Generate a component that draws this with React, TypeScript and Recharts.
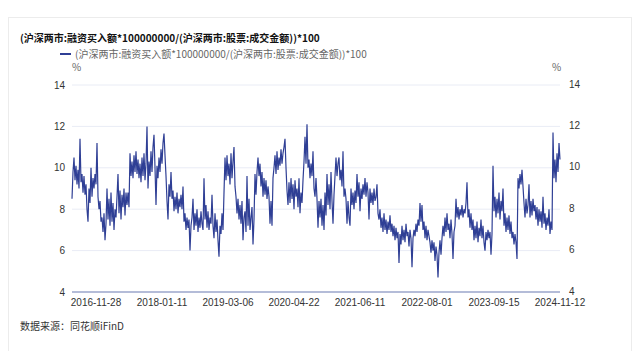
import React from "react";
import {
  CartesianGrid,
  Line,
  LineChart,
  XAxis,
  YAxis,
} from "recharts";

// one sample per screen column
const ratioValues: number[] = [
  8.5, 9.8, 10.5, 9.4, 10.1, 9.2, 9.9, 9.0, 11.4, 9.3,
  9.7, 8.8, 9.6, 8.7, 9.2, 8.0, 7.4, 9.0, 8.3, 10.0,
  8.6, 9.5, 9.0, 9.7, 9.2, 11.2, 8.6, 8.0, 8.4, 7.4,
  7.6, 6.9, 7.8, 6.5, 7.3, 9.0, 7.5, 8.5, 7.2, 8.8,
  7.4, 8.3, 7.0, 8.0, 7.6, 8.6, 9.7, 7.8, 8.9, 7.5,
  8.7, 8.1, 9.0, 7.7, 8.8, 8.2, 8.8, 8.1, 10.7, 9.6,
  10.3, 9.5, 10.6, 9.8, 10.8, 9.7, 10.4, 9.5, 10.2, 9.3,
  10.5, 9.6, 10.7, 9.4, 10.2, 12.0, 9.0, 10.3, 9.6, 10.8,
  9.8, 11.0, 11.6, 10.0, 8.2, 10.1, 9.5, 10.5, 9.8, 10.9,
  10.2, 11.2, 11.65, 10.6, 9.6, 8.4, 7.5, 9.2, 8.6, 9.8,
  8.5, 8.9, 7.9, 8.6, 8.0, 8.8, 7.8, 8.5, 8.1, 8.7,
  8.0, 9.1, 7.4, 7.8, 7.0, 7.6, 7.1, 7.5, 6.0, 7.2,
  7.6, 8.5, 7.0, 7.8, 7.2, 8.0, 6.9, 7.6, 7.1, 7.9,
  7.3, 7.0, 9.5, 7.5, 8.2, 7.1, 7.9, 7.0, 7.6, 7.3,
  8.7, 7.2, 6.6, 7.8, 6.9, 7.5, 6.5, 5.7, 7.2, 6.8,
  7.8, 7.0, 8.8, 10.5, 9.4, 10.6, 9.6, 10.2, 9.2, 10.7,
  9.5, 10.3, 11.0, 9.1, 8.6, 7.8, 8.5, 7.5, 8.2, 7.3,
  8.4, 6.5, 7.6, 7.9, 6.9, 9.6, 7.2, 8.5, 7.0, 7.6,
  8.1, 6.3, 7.5, 9.7, 8.7, 9.8, 10.5, 9.6, 10.2, 9.1,
  9.8, 8.6, 9.5, 8.7, 9.4, 8.5, 9.1, 8.6, 7.3, 8.4,
  7.2, 9.5, 10.0, 10.6, 9.7, 10.8, 9.9, 10.5, 10.1, 10.9,
  10.2, 10.7, 11.0, 11.4, 10.0, 8.9, 8.2, 9.3, 8.3, 9.5,
  8.5, 9.2, 8.0, 9.4, 8.6, 9.0, 8.1, 9.5, 7.8, 8.8,
  8.3, 9.4, 10.3, 11.5, 10.2, 12.1, 10.0, 10.4, 9.5, 10.2,
  9.6, 10.8, 9.0, 8.6, 9.5, 8.5, 7.1, 8.4, 7.6, 8.5,
  7.2, 8.2, 7.0, 8.8, 7.7, 9.7, 8.2, 9.2, 8.0, 9.8,
  8.4, 7.3, 8.7, 9.6, 10.5, 9.6, 10.2, 10.5, 9.4, 9.9,
  9.1, 10.8, 8.6, 9.0, 8.5, 7.3, 8.4, 7.6, 7.2, 9.0,
  8.2, 8.8, 8.0, 8.9, 8.3, 9.7, 8.6, 9.3, 7.9, 9.0,
  8.5, 9.2, 8.7, 9.5, 8.6, 9.3, 8.8, 7.5, 9.0, 8.3,
  8.8, 8.2, 9.0, 8.4, 8.6, 9.2, 7.8, 7.5, 8.0, 7.1,
  7.6, 6.9, 7.8, 7.0, 7.5, 6.8, 7.4, 7.0, 7.7, 6.9,
  7.3, 6.7, 7.2, 6.5, 7.1, 6.6, 6.9, 5.4, 6.8, 6.3,
  7.2, 6.5, 7.0, 6.4, 7.3, 6.7, 6.9, 6.2, 7.0, 6.6,
  5.2, 6.6, 7.0, 6.7, 7.3, 6.9, 7.5, 7.2, 8.3, 7.4,
  8.2, 7.0, 7.4, 6.6, 7.2, 6.5, 7.0, 6.7, 6.4, 5.9,
  6.5, 6.0, 6.4, 5.5, 6.2, 5.8, 4.7, 5.9, 6.5, 5.8,
  6.6, 7.2, 6.7, 7.6, 6.9, 7.8, 7.0, 7.3, 6.6, 7.5,
  6.8, 5.6, 6.9, 7.2, 8.5, 7.6, 8.1, 7.5, 8.0, 7.7,
  8.2, 7.6, 8.0, 7.8, 8.3, 9.3, 7.6, 8.0, 7.1, 7.8,
  7.0, 7.5, 6.5, 7.2, 6.6, 7.4, 6.4, 7.1, 6.7, 7.5,
  6.6, 7.2, 6.4, 6.0, 6.9, 6.5, 7.0, 6.6, 6.9, 5.8,
  6.8, 10.1, 7.9, 8.6, 7.6, 8.5, 7.8, 8.8, 7.5, 8.4,
  7.9, 9.0, 7.2, 7.8, 6.9, 7.6, 7.0, 7.7, 6.8, 7.4,
  6.6, 6.9, 6.3, 6.8, 6.4, 5.6, 9.5, 9.0, 9.7, 9.2,
  9.9, 9.1, 8.3, 7.6, 8.5, 7.8, 8.2, 9.2, 7.6, 8.4,
  7.7, 8.5, 7.9, 8.2, 7.5, 8.1, 7.2, 8.0, 7.4, 7.9,
  7.1, 8.6, 7.3, 7.8, 7.0, 7.6, 7.2, 8.0, 6.8, 7.4,
  7.0, 11.7, 9.5, 10.4, 9.3, 10.7, 9.8, 11.2, 10.4,
];

const tickDates: string[] = [
  "2016-11-28",
  "2018-01-11",
  "2019-03-06",
  "2020-04-22",
  "2021-06-11",
  "2022-08-01",
  "2023-09-15",
  "2024-11-12",
];
// sample index where each date label sits
const tickIndexes: number[] = [24, 90, 156, 222, 288, 355, 422, 488];

const yTicks: number[] = [4, 6, 8, 10, 12, 14];

const seriesName = "(沪深两市:融资买入额*100000000/(沪深两市:股票:成交金额))*100";

const data = ratioValues.map((v, i) => ({ i, v }));

const FONT = '"Noto Sans CJK SC", "Noto Sans", sans-serif';
const NUM_FONT = '"Liberation Sans", Arial, sans-serif';
const LINE_COLOR = "#2f3f95";
const tickStyle = { fill: "#333", fontSize: 10, fontFamily: NUM_FONT };

export default function App() {
  return (
    <div style={{ position: "relative", width: 624, height: 343, fontFamily: FONT, background: "#fff" }}>
      <div
        style={{
          position: "absolute",
          left: 0,
          top: 9,
          width: 622,
          height: 333,
          border: "1px solid #ececec",
        }}
      />
      <div style={{ position: "absolute", left: 12, top: 22, fontSize: 10, fontWeight: "bold", color: "#111", whiteSpace: "nowrap" }}>
        {seriesName}
      </div>
      <div style={{ position: "absolute", left: 52, top: 38, display: "flex", alignItems: "center", whiteSpace: "nowrap" }}>
        <span style={{ display: "inline-block", width: 11, height: 2, background: LINE_COLOR, marginRight: 4 }} />
        <span style={{ fontSize: 10, color: "#666" }}>{seriesName}</span>
      </div>
      <div style={{ position: "absolute", left: 64, top: 51, fontSize: 10, color: "#666" }}>%</div>
      <div style={{ position: "absolute", left: 544, top: 51, fontSize: 10, color: "#666" }}>%</div>

      <div style={{ position: "absolute", left: 0, top: 0 }}>
        <LineChart
          width={624}
          height={342}
          data={data}
          margin={{ top: 77, right: 32, bottom: 38, left: 24 }}
        >
          <CartesianGrid yAxisId="left" vertical={false} stroke="#e9ecf5" />
          <XAxis
            dataKey="i"
            type="number"
            domain={[0, ratioValues.length - 1]}
            ticks={tickIndexes}
            tickFormatter={(i: number) => tickDates[tickIndexes.indexOf(i)] ?? ""}
            interval={0}
            tick={tickStyle}
            tickLine={false}
            tickSize={0}
            tickMargin={7}
            axisLine={{ stroke: "#b4bcd8", strokeWidth: 2 }}
            height={20}
          />
          <YAxis
            yAxisId="left"
            domain={[4, 14]}
            ticks={yTicks}
            interval={0}
            tick={tickStyle}
            tickLine={false}
            axisLine={false}
            tickSize={5}
            tickMargin={2}
            width={40}
          />
          <YAxis
            yAxisId="right"
            orientation="right"
            domain={[4, 14]}
            ticks={yTicks}
            interval={0}
            tick={{ ...tickStyle, dy: -1 }}
            tickLine={false}
            axisLine={false}
            tickSize={7}
            tickMargin={2}
            width={40}
          />
          {/* same series bound to the right axis so it renders its ticks */}
          <Line
            yAxisId="right"
            type="linear"
            dataKey="v"
            stroke="none"
            strokeOpacity={0}
            dot={false}
            activeDot={false}
            legendType="none"
            isAnimationActive={false}
          />
          <Line
            yAxisId="left"
            type="linear"
            dataKey="v"
            stroke={LINE_COLOR}
            strokeWidth={1.2}
            dot={false}
            isAnimationActive={false}
          />
        </LineChart>
      </div>

      <div style={{ position: "absolute", left: 12, top: 310, fontSize: 10, color: "#333" }}>
        数据来源：同花顺iFinD
      </div>
    </div>
  );
}
